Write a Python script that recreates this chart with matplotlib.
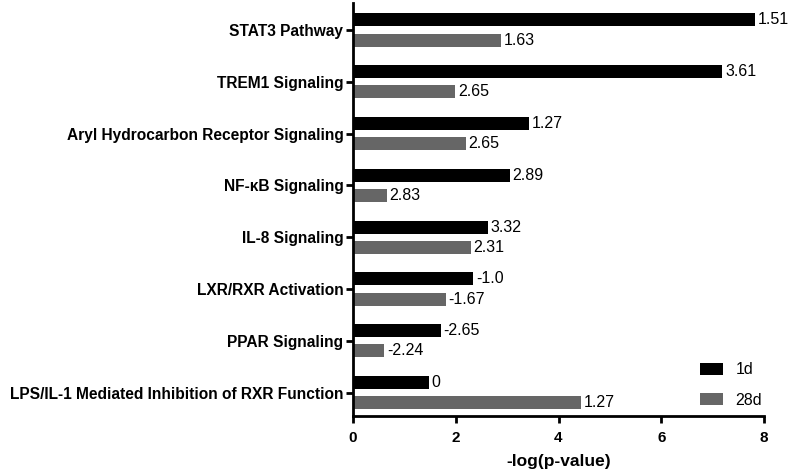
import numpy as np
import matplotlib.pyplot as plt

plt.rcParams['font.family'] = ['Liberation Sans', 'DejaVu Sans']

# pathways, top to bottom
pathways = ['STAT3 Pathway', 'TREM1 Signaling', 'Aryl Hydrocarbon Receptor Signaling',
            'NF-κB Signaling', 'IL-8 Signaling', 'LXR/RXR Activation',
            'PPAR Signaling', 'LPS/IL-1 Mediated Inhibition of RXR Function']

# -log(p-value)
logp_1d = [7.82, 7.19, 3.42, 3.05, 2.63, 2.34, 1.71, 1.47]
logp_28d = [2.88, 1.99, 2.19, 0.66, 2.29, 1.81, 0.61, 4.44]

# z-score labels printed next to bars
z_1d = ['1.51', '3.61', '1.27', '2.89', '3.32', '-1.0', '-2.65', '0']
z_28d = ['1.63', '2.65', '2.65', '2.83', '2.31', '-1.67', '-2.24', '1.27']

fig = plt.figure(figsize=(7.89, 4.76), dpi=100)
ax = fig.add_axes([353 / 789, 60 / 476, 411 / 789, 413 / 476])

y = np.arange(len(pathways))
h = 0.25
off = 0.195
b1 = ax.barh(y - off, logp_1d, height=h, color='black', label='1d')
b2 = ax.barh(y + off, logp_28d, height=h, color='#666666', label='28d')

for bar, txt in zip(b1, z_1d):
    ax.text(bar.get_width() + 0.05, bar.get_y() + bar.get_height() / 2, txt,
            va='center', ha='left', fontsize=11.5)
for bar, txt in zip(b2, z_28d):
    ax.text(bar.get_width() + 0.05, bar.get_y() + bar.get_height() / 2, txt,
            va='center', ha='left', fontsize=11.5)

ax.set_yticks(y)
ax.set_yticklabels(pathways, fontsize=11.2, fontweight='bold')
ax.set_ylim(7.45, -0.52)
ax.set_xlim(0, 8)
ax.set_xticks([0, 2, 4, 6, 8])
ax.set_xticklabels(['0', '2', '4', '6', '8'], fontsize=11, fontweight='bold')
ax.set_xlabel('-log(p-value)', fontsize=12.5, fontweight='bold', labelpad=6)

for s in ['top', 'right']:
    ax.spines[s].set_visible(False)
for s in ['left', 'bottom']:
    ax.spines[s].set_linewidth(2)
ax.tick_params(axis='both', width=2, length=5, direction='out')
ax.tick_params(axis='y', pad=2)
ax.tick_params(axis='x', pad=6)

ax.legend(loc='center left', bbox_to_anchor=(333 / 411, 31 / 413), frameon=False,
          fontsize=11.5, handlelength=1.4, handleheight=0.8, labelspacing=0.95,
          handletextpad=0.8)

fig.savefig('out.png', dpi=100)
